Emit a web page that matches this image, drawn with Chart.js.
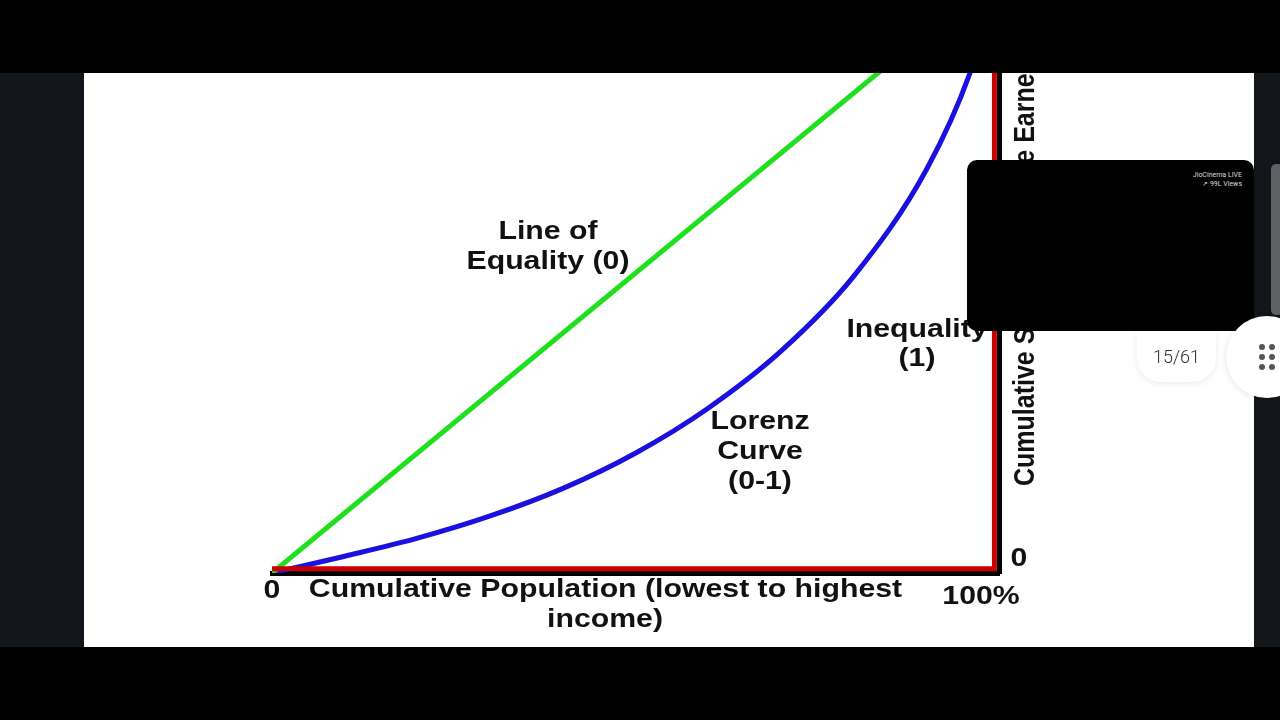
<!DOCTYPE html>
<html lang="en">
<head>
	<meta charset="UTF-8">
	<title>Lorenz Curve</title>
	<script src="https://cdn.jsdelivr.net/npm/chart.js@4/dist/chart.umd.min.js"></script>
	<style>
		* { box-sizing: border-box; }
		html, body { margin: 0; width: 1280px; height: 720px; overflow: hidden; background: #000; font-family: Roboto, sans-serif; }
		#strip { position: absolute; left: 0; top: 73px; width: 1280px; height: 574px; background: #12151a; }
		#panel { position: absolute; left: 84px; top: 73px; width: 1170px; height: 574px; background: #fff; }
		#chart { position: absolute; left: 84px; top: 73px; filter: blur(0.6px); }
		#video { position: absolute; left: 967px; top: 160px; width: 287px; height: 171px; background: #000; border-radius: 10px; color: #ddd; text-align: right; padding: 11px 12px; font-size: 7px; line-height: 9px; }
		#scroll { position: absolute; left: 1271px; top: 164px; width: 12px; height: 151px; background: #5f6164; border-radius: 5px; }
		#pill { position: absolute; left: 1137px; top: 331px; width: 79px; height: 51px; background: #fff; border-radius: 0 0 24px 24px; box-shadow: 0 2px 6px rgba(0,0,0,0.08); text-align: center; line-height: 52px; font-size: 18px; font-weight: 300; color: #333; }
		#btn { position: absolute; left: 1226px; top: 316px; width: 82px; height: 82px; background: #fff; border-radius: 50%; box-shadow: 0 1px 6px rgba(0,0,0,0.12); }
		#btn span { position: absolute; width: 6px; height: 6px; background: #555; border-radius: 50%; }
	</style>
</head>

<body>
	<div id="strip"></div>
	<div id="panel"></div>
	<canvas id="chart" width="1170" height="574"></canvas>
	<div id="scroll"></div>
	<div id="video">JioCinema LIVE<br>↗ 99L Views</div>
	<div id="pill">15/61</div>
	<div id="btn">
		<span style="left:33px;top:28px"></span><span style="left:43px;top:28px"></span>
		<span style="left:33px;top:38px"></span><span style="left:43px;top:38px"></span>
		<span style="left:33px;top:48px"></span><span style="left:43px;top:48px"></span>
	</div>

	<script>
		const equalityX = [0, 100];
		const equalityY = [0, 100];

		const lorenzX = [0, 10, 20, 30, 40, 50, 60, 70, 80, 90, 96, 100];
		const lorenzY = [0, 2.8, 5.8, 9.5, 14.1, 20, 27.5, 37, 49.5, 67.3, 83.5, 100];

		// the red line sits just inside the black axes
		const inequalityX = [0, 99.3, 99.3];
		const inequalityY = [0.7, 0.7, 100];

		const toPoints = (xs, ys) => xs.map((x, i) => ({ x, y: ys[i] }));

		// all text is stretched sideways in the original, so it goes through this
		const textPlugin = {
			id: 'chartText',
			afterDraw(chart) {
				const c = chart.ctx;
				const label = (text, x, y, rotated) => {
					c.save();
					c.translate(x, y);
					if (rotated) {
						c.rotate(-Math.PI / 2);
						c.scale(1, 1.2);
						c.textAlign = 'left';
					} else {
						c.scale(1.21, 1);
						c.textAlign = 'center';
					}
					c.textBaseline = 'middle';
					c.font = 'bold 25px "Liberation Sans"';
					c.fillStyle = '#111';
					c.fillText(text, 0, 0);
					c.restore();
				};
				label('Line of', 464, 159);
				label('Equality (0)', 464, 189);
				label('Inequality', 833, 257);
				label('(1)', 833, 286);
				label('Lorenz', 676, 349);
				label('Curve', 676, 379);
				label('(0-1)', 676, 409);
				label('Cumulative Population (lowest to highest', 521.5, 517.5);
				label('income)', 521, 547.5);
				label('0', 188, 518);
				label('100%', 897, 524);
				label('0', 935, 486);
				label('Cumulative Share of Income Earned', 942, 413, true);
			}
		};

		const ctx = document.getElementById('chart').getContext('2d');

		new Chart(ctx, {
			type: 'scatter',
			plugins: [textPlugin],
			data: {
				datasets: [
					{ label: 'Inequality (1)', data: toPoints(inequalityX, inequalityY), showLine: true, borderColor: '#c80000', borderWidth: 5, pointRadius: 0 },
					{ label: 'Line of Equality (0)', data: toPoints(equalityX, equalityY), showLine: true, borderColor: '#1ee01e', borderWidth: 5, pointRadius: 0 },
					{ label: 'Lorenz Curve (0-1)', data: toPoints(lorenzX, lorenzY), showLine: true, borderColor: '#1a10e0', borderWidth: 5, pointRadius: 0, cubicInterpolationMode: 'monotone' }
				]
			},
			options: {
				responsive: false,
				animation: false,
				layout: { padding: { left: 188, right: 254.5, top: 0, bottom: 74 } },
				plugins: { legend: { display: false }, tooltip: { enabled: false } },
				scales: {
					x: {
						min: 0, max: 100,
						afterFit: (s) => { s.height = 0; },
						grid: { display: false },
						border: { color: '#000', width: 5 },
						ticks: { display: false }
					},
					y: {
						position: 'right',
						min: 0, max: 83.3,
						afterFit: (s) => { s.width = 0; },
						grid: { display: false },
						border: { color: '#000', width: 5 },
						ticks: { display: false }
					}
				}
			}
		});
	</script>
</body>
</html>
